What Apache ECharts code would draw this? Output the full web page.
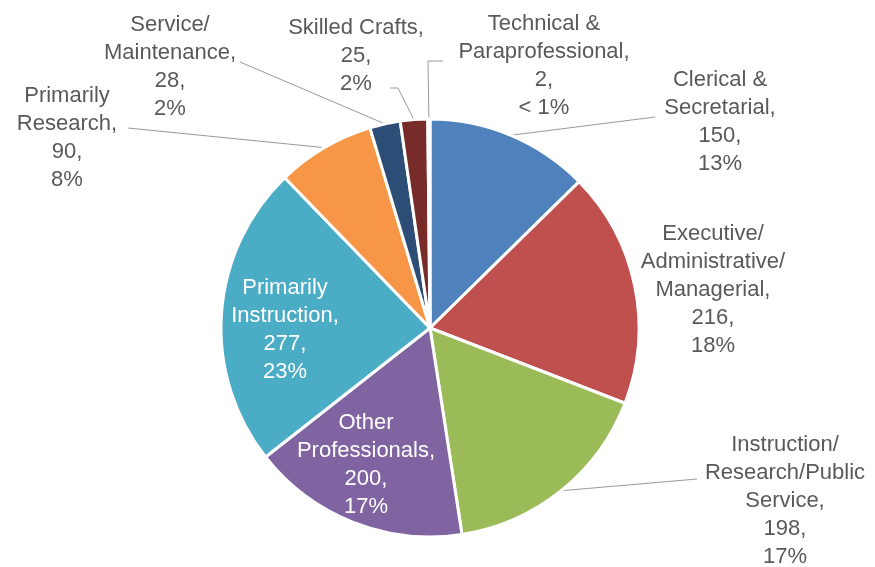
<!DOCTYPE html>
<html>
<head>
<meta charset="utf-8">
<script src="https://cdn.jsdelivr.net/npm/echarts@6/dist/echarts.min.js"></script>
<style>
  html, body { margin: 0; padding: 0; background: #ffffff; }
  #chart { width: 875px; height: 567px; }
</style>
</head>
<body>
<div id="chart"></div>
<script>
// Staff headcount by occupational category
const categories = [
  'Clerical &\nSecretarial',
  'Executive/\nAdministrative/\nManagerial',
  'Instruction/\nResearch/Public\nService',
  'Other\nProfessionals',
  'Primarily\nInstruction',
  'Primarily\nResearch',
  'Service/\nMaintenance',
  'Skilled Crafts',
  'Technical &\nParaprofessional'
];
const values = [150, 216, 198, 200, 277, 90, 28, 25, 2];

const colors = [
  '#4F81BD', '#C0504D', '#9BBB59', '#8064A2', '#4BACC6',
  '#F79646', '#2C4D75', '#772C2A', '#5F7530'
];

// Label centres; `lead` = leader attach offset from the label centre
// [dx, dy, horizontal run before turning toward the slice]
const labelSpots = [
  { x: 720, y: 122, lead: [-65, -5] },
  { x: 713, y: 290 },
  { x: 785, y: 501, lead: [-88, -22] },
  { x: 366, y: 465, inside: true },
  { x: 285, y: 330, inside: true },
  { x: 67,  y: 138, lead: [61, -10] },
  { x: 170, y: 67,  lead: [70, -5] },
  { x: 356, y: 56,  lead: [34, 32, 8] },
  { x: 544, y: 66,  lead: [-101, -5, -15] }
];

const FONT = "'Liberation Sans', Arial, Helvetica, sans-serif";

function formatLabel(p) {
  const pct = p.percent < 1 ? '< 1%' : Math.round(p.percent) + '%';
  return p.name + ',\n' + p.value + ',\n' + pct;
}

const chart = echarts.init(document.getElementById('chart'), null, { renderer: 'canvas' });

chart.setOption({
  backgroundColor: '#ffffff',
  animation: false,
  series: [{
    type: 'pie',
    center: [430, 328],
    radius: 209,
    startAngle: 90,
    clockwise: true,
    avoidLabelOverlap: false,
    emphasis: { disabled: true },
    itemStyle: { borderColor: '#ffffff', borderWidth: 3 },
    label: {
      show: true,
      position: 'outside',
      color: '#595959',
      fontFamily: FONT,
      fontSize: 22,
      lineHeight: 28,
      formatter: formatLabel
    },
    labelLine: {
      show: true,
      length: 10,
      length2: 10,
      smooth: false,
      lineStyle: { color: '#9a9a9a', width: 1 }
    },
    labelLayout: function (params) {
      const spot = labelSpots[params.dataIndex];
      const out = { x: spot.x, y: spot.y, align: 'center', verticalAlign: 'middle' };
      const pts = params.labelLinePoints;
      if (spot.lead && pts) {
        const ax = spot.x + spot.lead[0];
        const ay = spot.y + spot.lead[1];
        const run = spot.lead[2] || 0;
        out.labelLinePoints = [pts[0].slice(), [ax + run, ay], [ax, ay]];
      }
      return out;
    },
    data: categories.map(function (name, i) {
      const spot = labelSpots[i];
      const item = { name: name, value: values[i], itemStyle: { color: colors[i] } };
      if (spot.inside) {
        item.label = { position: 'inside', color: '#ffffff' };
        item.labelLine = { show: false };
      } else if (!spot.lead) {
        item.labelLine = { show: false };
      }
      return item;
    })
  }]
});
</script>
</body>
</html>
